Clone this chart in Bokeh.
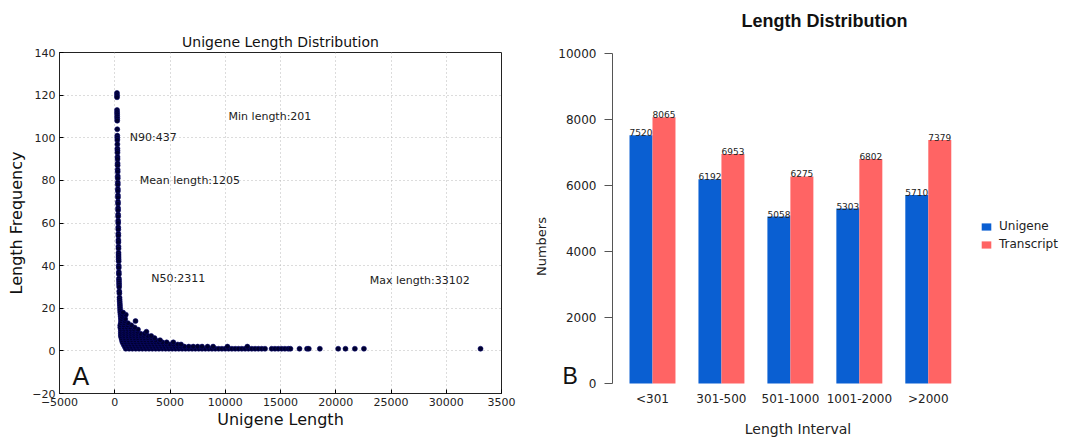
import math
from bokeh.plotting import figure
from bokeh.layouts import row, column
from bokeh.models import (ColumnDataSource, Label, Legend, LegendItem,
                          FixedTicker, Range1d)
from bokeh.core.properties import value
from bokeh.transform import dodge
from bokeh.embed import file_html
from bokeh.resources import INLINE

# ---------------- Panel A data ----------------
# steep column of short unigenes (length, frequency)
column_lengths = [201, 203, 206, 209, 212, 215, 218, 221, 224, 227, 230, 233, 236, 239,
                  242, 245, 248, 251, 254, 257, 260, 263, 266, 269, 272, 275, 278, 281,
                  284, 287, 290, 293, 296, 299, 302, 305, 308, 311, 314, 317, 320, 323,
                  326, 329, 332, 335, 338, 341, 344, 347, 350, 355, 360, 365, 370, 375,
                  380, 385, 390, 395, 400, 410, 420, 430, 440, 450, 460, 470, 480, 490,
                  500, 520, 540, 560, 580, 600, 630, 660, 700, 740, 780, 830, 900]
column_freqs = [121, 120, 119, 113, 112, 111, 110, 109, 108, 104, 101, 100, 99, 97,
                95, 94, 93, 91, 90, 88, 87, 85, 84, 82, 81, 79, 78, 76,
                75, 73, 72, 70, 69, 67, 66, 64, 63, 61, 60, 58, 57, 55,
                54, 52, 51, 49, 48, 46, 45, 44, 43, 42, 40, 39, 37, 36,
                34, 33, 32, 31, 30, 28, 27, 25, 24, 23, 22, 21, 20, 19,
                18, 17, 16, 15, 14, 13, 12, 11, 10, 9, 8, 7, 6]

# lengths observed at each low frequency (frequency -> lengths)
low_freq_lengths = {
    1: [1000, 1300, 1600, 1900, 2200, 2500, 2800, 3100, 3400, 3700, 4000, 4300, 4600,
        4900, 5200, 5500, 5800, 6100, 6400, 6700, 7000, 7300, 7600, 7900, 8200, 8500,
        8800, 9100, 9400, 9700, 10000, 10300, 10600, 10900, 11200, 11500, 11800, 12100,
        12400, 12700, 13000, 13300, 13600, 14200, 14500, 14800, 15100, 15400, 15700,
        15900, 16720, 17400, 17560, 18560, 20220, 20880, 21730, 22550, 33102],
    2: [900, 1200, 1500, 1800, 2100, 2400, 2700, 3000, 3300, 3600, 3900, 4200, 4500,
        4800, 5100, 5400, 5700, 6000, 6300, 6700, 7100, 7500, 7900, 8400, 8900, 10200,
        12000],
    3: [800, 1100, 1400, 1700, 2000, 2300, 2600, 2900, 3200, 3500, 3800, 4100, 4400,
        4700, 5000, 5300, 5700, 6000],
    4: [700, 1000, 1300, 1600, 1900, 2200, 2500, 2800, 3100, 3400, 3700, 4000, 4300,
        4700, 5300],
    5: [650, 950, 1250, 1550, 1850, 2150, 2450, 2750, 3050, 3350, 3700, 4100],
    6: [600, 900, 1200, 1500, 1800, 2100, 2400, 2700, 3000, 3300, 3600],
    7: [550, 850, 1150, 1450, 1750, 2050, 2350, 2650, 3000, 3300],
    8: [550, 850, 1150, 1450, 1750, 2050, 2350, 2700],
    9: [550, 850, 1150, 1450, 1750, 2050, 2870],
    10: [550, 850, 1150, 1450, 1750, 2100],
    11: [500, 800, 1100, 1400, 1800],
    12: [500, 800, 1150, 1500],
    13: [550, 850, 1200],
    14: [600, 900, 1880],
    15: [600, 950],
    16: [650],
    17: [700, 1000],
    18: [750],
}

x_ticks_a = [-5000, 0, 5000, 10000, 15000, 20000, 25000, 30000, 35000]
y_ticks_a = [-20, 0, 20, 40, 60, 80, 100, 120, 140]
stat_texts = ["Min length:201", "N90:437", "Mean length:1205", "N50:2311",
              "Max length:33102"]

# ---------------- Panel B data ----------------
intervals = ["<301", "301-500", "501-1000", "1001-2000", ">2000"]
unigene = [7520, 6192, 5058, 5303, 5710]
transcript = [8065, 6953, 6275, 6802, 7379]
y_ticks_b = [0, 2000, 4000, 6000, 8000, 10000]

# ================= Panel A =================
FONT_A = "DejaVu Sans"
pts_x = list(column_lengths)
pts_y = list(column_freqs)
for f, ls in low_freq_lengths.items():
    pts_x.extend(ls)
    pts_y.extend([f] * len(ls))

p1 = figure(width=530, height=439, x_range=Range1d(-5000, 35000),
            y_range=Range1d(-20, 140), output_backend="svg",
            toolbar_location=None, min_border_left=59, min_border_right=29,
            min_border_top=52, min_border_bottom=46)
p1.title.text = "Unigene Length Distribution"
p1.title.align = "center"
p1.title.text_font = FONT_A
p1.title.text_font_size = "14px"
p1.title.text_font_style = "normal"
p1.title.text_color = "#111111"
p1.title.standoff = 5

p1.outline_line_color = "#222222"
p1.outline_line_width = 1
p1.background_fill_color = "white"

for ax in (p1.xaxis[0], p1.yaxis[0]):
    ax.major_label_text_font = FONT_A
    ax.major_label_text_font_size = "11px"
    ax.major_label_text_color = "#222222"
    ax.axis_label_text_font = FONT_A
    ax.axis_label_text_font_size = "16px"
    ax.axis_label_text_font_style = "normal"
    ax.axis_label_text_color = "#111111"
    ax.major_tick_in = 4
    ax.major_tick_out = 0
    ax.minor_tick_line_color = None
    ax.axis_line_color = "#222222"
    ax.major_label_standoff = 4

p1.xaxis.ticker = FixedTicker(ticks=x_ticks_a)
p1.yaxis.ticker = FixedTicker(ticks=y_ticks_a)
p1.xaxis.major_label_overrides = {-5000: "\u22125000", 35000: "3500"}
p1.yaxis.major_label_overrides = {-20: "\u221220"}
p1.xaxis.axis_label = "Unigene Length"
p1.yaxis.axis_label = "Length Frequency"
p1.xaxis.axis_label_standoff = 1
p1.yaxis.axis_label_standoff = 3

p1.grid.grid_line_color = "#b8b8b8"
p1.grid.grid_line_dash = "1 3"
p1.grid.grid_line_width = 1

p1.scatter(x=pts_x, y=pts_y, size=5, fill_color="#00002e",
           line_color="#0a0a70", line_width=0.6)

stat_pos = [(10300, 110), (1360, 100), (2270, 80), (3300, 34), (23080, 33)]
for (sx, sy), t in zip(stat_pos, stat_texts):
    p1.add_layout(Label(x=sx, y=sy, text=t, text_font=FONT_A,
                        text_font_size="11px", text_baseline="middle",
                        text_color="#222222"))
p1.add_layout(Label(x=-3850, y=-12, text="A", text_font=FONT_A,
                    text_font_size="25px", text_baseline="middle",
                    text_color="#111111"))

# ================= Panel B =================
# frame spans the whole figure width, reaches the top edge and a little below
# zero so that the y axis, title and the "B" tag can be drawn inside it.
FONT_B = "DejaVu Sans"
PX = 68.95            # pixels per category unit
PY = 0.033            # pixels per count
AX = 0.42             # x position of the drawn y axis
idx = list(range(1, len(intervals) + 1))
src = ColumnDataSource(dict(x=idx, uni=unigene, tra=transcript,
                            uni_t=[str(v) for v in unigene],
                            tra_t=[str(v) for v in transcript]))

x_lo = AX - 82 / PX
p2 = figure(width=535, height=439, x_range=Range1d(x_lo, x_lo + 535 / PX),
            y_range=Range1d(-8 / PY, 10000 + 53 / PY), output_backend="svg",
            toolbar_location=None, min_border_left=0, min_border_right=0,
            min_border_top=0, min_border_bottom=48)
p2.outline_line_color = None
p2.grid.grid_line_color = None
p2.background_fill_color = "white"
p2.yaxis.visible = False

bw = 1 / 3
r_u = p2.vbar(x=dodge("x", -bw / 2, range=p2.x_range), top="uni", bottom=0,
              width=bw, source=src, fill_color="#0a5fd2", line_color=None)
r_t = p2.vbar(x=dodge("x", bw / 2, range=p2.x_range), top="tra", bottom=0,
              width=bw, source=src, fill_color="#ff6464", line_color=None)

p2.text(x=dodge("x", -bw / 2, range=p2.x_range), y="uni", text="uni_t",
        source=src, text_align="center", text_baseline="bottom",
        text_font=value(FONT_B), text_font_size="9px", text_color="#222222",
        y_offset=1)
p2.text(x=dodge("x", bw / 2, range=p2.x_range), y="tra", text="tra_t",
        source=src, text_align="center", text_baseline="bottom",
        text_font=value(FONT_B), text_font_size="9px", text_color="#222222",
        y_offset=1)

# drawn y axis
p2.segment(x0=[AX], y0=[y_ticks_b[0]], x1=[AX], y1=[y_ticks_b[-1]],
           line_color="#555555", line_width=1)
p2.segment(x0=[AX - 8 / PX] * len(y_ticks_b), y0=y_ticks_b,
           x1=[AX] * len(y_ticks_b), y1=y_ticks_b,
           line_color="#555555", line_width=1)
p2.text(x=[AX - 16 / PX] * len(y_ticks_b), y=y_ticks_b,
        text=[str(t) for t in y_ticks_b], text_align="right",
        text_baseline="middle", text_font=value(FONT_B),
        text_font_size="12px", text_color="#222222")
p2.text(x=[x_lo + 3 / PX], y=[4150], text=["Numbers"], angle=math.pi / 2,
        text_align="center", text_baseline="top", text_font=value(FONT_B),
        text_font_size="13px", text_color="#222222")
p2.text(x=[AX - 50 / PX], y=[8 / PY], text=["B"], text_align="left",
        text_baseline="middle", text_font=value("Liberation Sans"),
        text_font_size="23px", text_color="#111111")
p2.text(x=[x_lo + 294 / PX], y=[10000 + 33 / PY], text=["Length Distribution"],
        text_align="center", text_baseline="middle",
        text_font=value("Liberation Sans"), text_font_style="bold",
        text_font_size="18px", text_color="#111111")

xa = p2.xaxis[0]
xa.ticker = FixedTicker(ticks=idx)
xa.major_label_overrides = {i: lab for i, lab in zip(idx, intervals)}
xa.axis_line_color = None
xa.major_tick_line_color = None
xa.minor_tick_line_color = None
xa.major_tick_in = 0
xa.major_tick_out = 0
xa.major_label_standoff = 0
xa.major_label_text_font = FONT_B
xa.major_label_text_font_size = "12px"
xa.major_label_text_color = "#222222"
xa.axis_label = "Length Interval"
xa.axis_label_text_font = FONT_B
xa.axis_label_text_font_size = "14px"
xa.axis_label_text_font_style = "normal"
xa.axis_label_text_color = "#222222"
xa.axis_label_standoff = 12

legend = Legend(items=[LegendItem(label="Unigene", renderers=[r_u]),
                       LegendItem(label="Transcript", renderers=[r_t])],
                location=(450, 140), orientation="vertical",
                glyph_width=12, glyph_height=9, label_height=10,
                label_standoff=7, spacing=4, padding=0, margin=0,
                border_line_color=None, background_fill_alpha=0,
                label_text_font=FONT_B, label_text_font_size="12px",
                label_text_color="#222222")
p2.add_layout(legend)

layout = row(column(p1), column(p2), spacing=0)
open("out.html", "w").write(file_html(layout, INLINE))
